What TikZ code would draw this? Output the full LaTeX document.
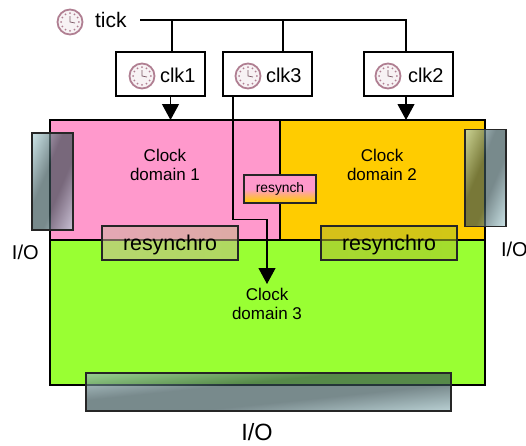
\documentclass[tikz,border=0pt]{standalone}
\usepackage{xcolor}
\usepackage{fontspec}
\usepackage{tikz}
\setmainfont{Liberation Sans}
\usetikzlibrary{arrows.meta, positioning, calc}
\definecolor{domainpink}{HTML}{FF99CC}
\definecolor{domainorange}{HTML}{FFCC00}
\definecolor{domaingreen}{HTML}{99FF33}
\definecolor{clockmauve}{HTML}{B07F92}
\definecolor{iolight}{HTML}{B8DDE2}
\definecolor{iodark}{HTML}{365054}
\definecolor{rsa}{HTML}{CFB6A2}
\definecolor{rsb}{HTML}{C3B885}
\definecolor{rsc}{HTML}{B5B730}
\definecolor{rsd}{HTML}{ABC428}
\pgfdeclareverticalshading{ioband}{100bp}{color(0bp)=(iolight); color(16bp)=(iolight); color(42bp)=(iodark); color(58bp)=(iodark); color(84bp)=(iolight); color(100bp)=(iolight)}
\pgfdeclareverticalshading{smallfade}{100bp}{color(0bp)=(domainorange); color(27bp)=(domainorange); color(50bp)=(domainpink); color(100bp)=(domainpink)}

\tikzset{
  clockicon/.pic={
    \fill [white!90!clockmauve] (0,0) circle (12.5);
    \draw [clockmauve, line width=1.8pt] (0,0) circle (12.5);
    \foreach \a in {0,30,...,330} {
      \fill [clockmauve] (\a:8.8) circle (1);
    }
    \draw [clockmauve!70!black, line width=0.7pt] (0,6) -- (0,0) -- (5,-1);
  }
}

\begin{document}
\begin{tikzpicture}[x=1pt, y=1pt, font=\fontsize{17}{19}\selectfont,
    every node/.style={inner sep=0pt, outer sep=0pt},
    domainbox/.style={rectangle, draw=black, line width=1.1pt, anchor=north west},
    clkbox/.style={rectangle, draw=black, line width=1.1pt, minimum width=89pt, minimum height=44pt},
    clktext/.style={font=\fontsize{20}{22}\selectfont, anchor=west},
    domlabel/.style={align=center},
    wire/.style={line width=1.1pt},
    flow/.style={wire, -{Triangle[length=16pt, width=17pt]}},
    ioport/.style={rectangle, draw=black!85, line width=1.1pt, shading=ioband, fill opacity=0.67},
    syncbox/.style={rectangle, draw=black!85, line width=1.1pt, shade, fill opacity=0.55, text opacity=1,
      font=\fontsize{21.4}{23}\selectfont, minimum width=136pt, minimum height=34pt, text height=18pt, text depth=4pt}]

    \useasboundingbox (0,0) rectangle (526,-445);

    % clock domains
    \node (dom1) [domainbox, fill=domainpink, minimum width=230pt, minimum height=120pt] at (50,-120) {};
    \node (dom2) [domainbox, fill=domainorange, minimum width=205pt, minimum height=120pt] at (dom1.north east) {};
    \node (dom3) [domainbox, fill=domaingreen, minimum width=435pt, minimum height=145pt] at (dom1.south west) {};

    \node (lab1) [domlabel] at (165,-165) {Clock\\domain 1};
    \node (lab2) [domlabel] at (382,-165) {Clock\\domain 2};
    \node (lab3) [domlabel] at (267,-304) {Clock\\domain 3};

    % clocks
    \node (clk1) [clkbox] at (160.5,-74) {};
    \node (clk3) [clkbox, right=18pt of clk1] {};
    \node (clk2) [clkbox, right=52pt of clk3] {};
    \node (clk1txt) [clktext] at ($(clk1.west)+(44,-1)$) {clk1};
    \node (clk3txt) [clktext] at ($(clk3.west)+(43,-1)$) {clk3};
    \node (clk2txt) [clktext] at ($(clk2.west)+(44,-1)$) {clk2};
    \node (ticktxt) [clktext, font=\fontsize{21}{23}\selectfont] at (95,-20) {tick};

    \pic at (70,-22) {clockicon};
    \pic at (142,-76) {clockicon};
    \pic at (248,-76) {clockicon};
    \pic at (388,-76) {clockicon};

    % tick bus
    \coordinate (busa) at (140,-20);
    \coordinate (bus1) at (172,-20);
    \coordinate (bus3) at (283,-20);
    \coordinate (bus2) at (406,-20);
    \draw [wire] (busa) -- (bus2) -- (bus2 |- clk2.north);
    \foreach \i/\j in {bus1/clk1, bus3/clk3} {
      \draw [wire] (\i) -- (\i |- \j.north);
    }

    % clock arrows
    \coordinate (out1) at (170.5,-96);
    \coordinate (out3) at (233,-96);
    \coordinate (turn3) at (267,-219.5);
    \coordinate (tip3) at (267,-284);
    \draw [flow] (out1) -- (out1 |- dom1.north);
    \draw [flow] (bus2 |- clk2.south) -- (bus2 |- dom2.north);
    \draw [flow] (out3) |- (turn3) -- (tip3);

    % resynchronisers
    \node (rsmall) [rectangle, draw=black!85, line width=1.1pt, shading=smallfade,
      minimum width=72pt, minimum height=28pt, font=\fontsize{13.8}{15}\selectfont] at (280,-189) {resynch};
    \node (rs1) [syncbox, left color=rsa, right color=rsb] at (170,-243) {resynchro};
    \node (rs2) [syncbox, left color=rsc, right color=rsd] at (389,-243) {resynchro};

    % I/O ports
    \node (iol) [ioport, shading angle=67, minimum width=41pt, minimum height=97pt] at (52.5,-181.5) {};
    \node (ior) [ioport, shading angle=67, minimum width=41pt, minimum height=97pt] at (485.5,-178) {};
    \node (iob) [ioport, shading angle=6, minimum width=365pt, minimum height=38pt] at (268.5,-392) {};

    \node (iollab) [clktext] at (12,-252) {I/O};
    \node (iorlab) [clktext] at (501,-249) {I/O};
    \node (ioblab) [font=\fontsize{23.5}{25}\selectfont] at (257,-432) {I/O};
\end{tikzpicture}
\end{document}
